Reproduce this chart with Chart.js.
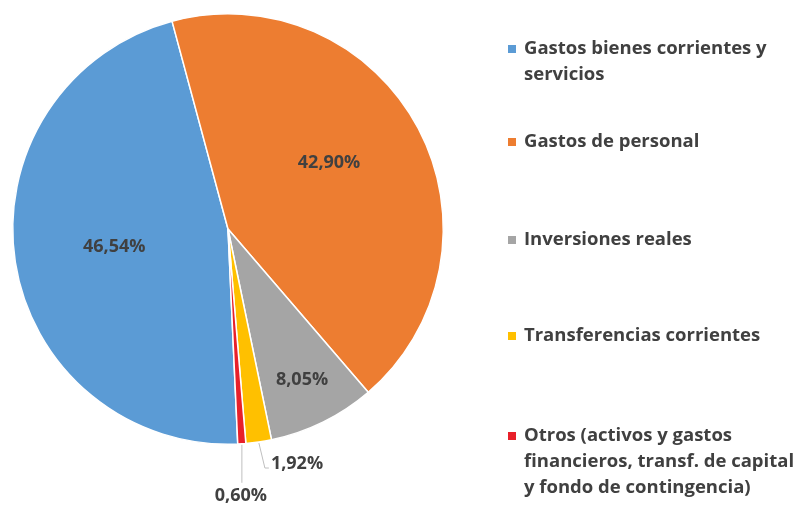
<!DOCTYPE html>
<html>
<head>
<meta charset="utf-8">
<script src="https://cdn.jsdelivr.net/npm/chart.js@4"></script>
<style>
  html, body { margin: 0; padding: 0; background: #fff; }
  #wrap { width: 800px; height: 509px; }
</style>
</head>
<body>
<div id="wrap"><canvas id="pieChart"></canvas></div>
<script>
const categories = [
  ["Gastos bienes corrientes y", "servicios"],
  ["Gastos de personal"],
  ["Inversiones reales"],
  ["Transferencias corrientes"],
  ["Otros (activos y gastos", "financieros, transf. de capital", "y fondo de contingencia)"],
];
const shares = [46.54, 42.90, 8.05, 1.92, 0.60];
const shareLabels = ["46,54%", "42,90%", "8,05%", "1,92%", "0,60%"];
const colors = ["#5B9BD5", "#ED7D31", "#A5A5A5", "#FFC000", "#E8202A"];

const TEXT = "#404040";
const FONT = "'Open Sans', Lato, sans-serif";

// percentages inside / outside the slices
const sliceLabels = {
  id: "sliceLabels",
  afterDatasetsDraw(chart) {
    const ctx = chart.ctx;
    const arcs = chart.getDatasetMeta(0).data;
    const inside = [0.535, 0.56, 0.78];
    ctx.save();
    ctx.font = "bold 18px " + FONT;
    ctx.fillStyle = TEXT;
    ctx.textBaseline = "middle";
    arcs.forEach((arc, i) => {
      const { x, y, startAngle, endAngle, outerRadius } = arc.getProps(
        ["x", "y", "startAngle", "endAngle", "outerRadius"], true);
      let mid = (startAngle + endAngle) / 2;
      if (i === 1) mid -= 0.09;
      if (i < 3) {
        const d = outerRadius * inside[i];
        ctx.textAlign = "center";
        ctx.fillText(shareLabels[i], x + Math.cos(mid) * d, y + Math.sin(mid) * d);
        return;
      }
      const ex = x + Math.cos(mid) * (outerRadius + 1);
      const ey = y + Math.sin(mid) * (outerRadius + 1);
      ctx.strokeStyle = "#bfbfbf";
      ctx.lineWidth = 1;
      ctx.beginPath();
      if (i === 3) {
        ctx.moveTo(ex, ey);
        ctx.lineTo(ex + 6, ey + 25);
        ctx.lineTo(ex + 10, ey + 25);
        ctx.stroke();
        ctx.textAlign = "left";
        ctx.fillText(shareLabels[i], ex + 12, ey + 21);
      } else {
        ctx.moveTo(ex, ey);
        ctx.lineTo(ex, ey + 38);
        ctx.stroke();
        ctx.textAlign = "center";
        ctx.fillText(shareLabels[i], ex - 1, ey + 51);
      }
    });
    ctx.restore();
  },
};

// legend on the right with wrapped lines
const sideLegend = {
  id: "sideLegend",
  afterDraw(chart) {
    const ctx = chart.ctx;
    const rows = [49, 142, 240, 336, 436];
    ctx.save();
    ctx.font = "bold 18.5px " + FONT;
    ctx.textBaseline = "middle";
    ctx.textAlign = "left";
    categories.forEach((lines, i) => {
      ctx.fillStyle = colors[i];
      ctx.fillRect(508, rows[i] - 4, 8, 8);
      ctx.fillStyle = TEXT;
      lines.forEach((t, k) => ctx.fillText(t, 524, rows[i] + k * 26));
    });
    ctx.restore();
  },
};

new Chart(document.getElementById("pieChart"), {
  type: "pie",
  data: {
    labels: categories.map((c) => c.join(" ")),
    datasets: [
      {
        data: shares,
        backgroundColor: colors,
        borderColor: "#ffffff",
        borderWidth: 1.5,
      },
    ],
  },
  options: {
    responsive: true,
    maintainAspectRatio: false,
    animation: false,
    rotation: 177.4,
    layout: { padding: { left: 12, top: 13, right: 356, bottom: 64 } },
    plugins: {
      legend: { display: false },
      tooltip: { enabled: false },
    },
  },
  plugins: [sliceLabels, sideLegend],
});
</script>
</body>
</html>
